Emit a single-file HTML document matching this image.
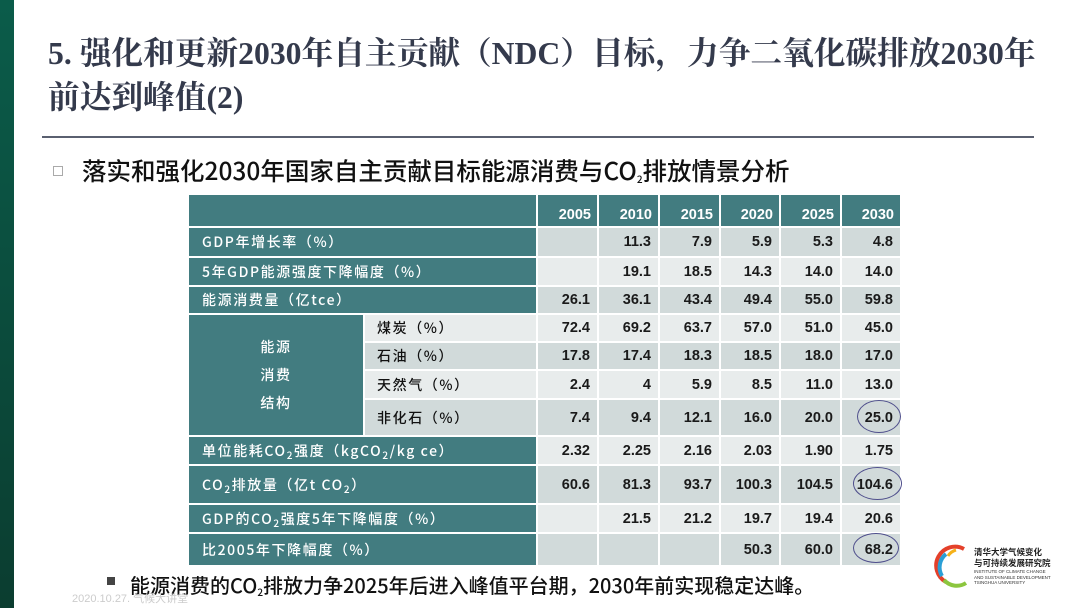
<!DOCTYPE html>
<html><head><meta charset="utf-8">
<style>
*{margin:0;padding:0;box-sizing:border-box}
body{width:1080px;height:608px;background:#fff;position:relative;overflow:hidden;font-family:"Liberation Sans","Noto Sans CJK SC",sans-serif}
.bar{position:absolute;left:0;top:0;width:14px;height:608px;background:linear-gradient(#0b5c4a,#0b3d30)}
.t{position:absolute;left:48px;font-family:"Liberation Serif","Noto Serif CJK SC",serif;font-weight:bold;font-size:31.7px;color:#343a4c;white-space:nowrap}
.hr{position:absolute;left:42px;top:136px;width:992px;height:2px;background:#5a6070}
.sub{position:absolute;left:82px;top:153px;font-size:24.5px;color:#111;white-space:nowrap;font-family:"Noto Sans CJK SC","Liberation Sans",sans-serif;font-weight:500}
.sq{position:absolute;left:53px;top:166px;width:10px;height:10px;border:1.5px solid #aaa}
table{position:absolute;left:187px;top:193px;border-collapse:separate;border-spacing:2px;table-layout:fixed}
td{padding:0;font-size:14.5px;vertical-align:middle;white-space:nowrap}
td.h{background:#427c80;color:#fff;font-weight:bold;text-align:right;padding-right:6px;vertical-align:bottom;padding-bottom:3px}
td.l{background:#427c80;color:#fff;padding-left:13px;letter-spacing:1.6px;font-family:"Noto Sans CJK SC","Liberation Sans",sans-serif;font-size:14px;font-weight:500}
td.s{background:#427c80;color:#fff;padding-left:0;letter-spacing:1.6px;text-align:center;line-height:28px;font-family:"Noto Sans CJK SC","Liberation Sans",sans-serif;font-size:14px;font-weight:500}
td.ss{padding-left:12px;letter-spacing:1.6px;color:#111;font-family:"Noto Sans CJK SC","Liberation Sans",sans-serif;font-size:14px;font-weight:500}
td.v{text-align:right;padding-right:7px;color:#1a1a1a;font-weight:bold}
tr.d td.v,tr.d td.ss{background:#d1dada}
tr.w td.v,tr.w td.ss{background:#e8ecec}
sub{font-size:10px;vertical-align:-3px;line-height:0}
.c{position:absolute;border:1.6px solid #4f4f8c;border-radius:50%}
.b{position:absolute;left:130px;top:570px;font-size:20px;color:#111;white-space:nowrap;font-family:"Noto Sans CJK SC","Liberation Sans",sans-serif;font-weight:500}
.bs{position:absolute;left:107px;top:577px;width:8px;height:8px;background:#444}
.date{position:absolute;left:72px;top:590px;font-size:11px;color:#ccc}
</style></head><body>
<div class="bar"></div>
<div class="t" style="top:29px">5. 强化和更新2030年自主贡献（NDC）目标，力争二氧化碳排放2030年</div>
<div class="t" style="top:73px">前达到峰值(2)</div>
<div class="hr"></div>
<div class="sq"></div>
<div class="sub">落实和强化2030年国家自主贡献目标能源消费与CO<sub>2</sub>排放情景分析</div>
<table>
<colgroup><col style="width:174px"><col style="width:171px"><col style="width:59px"><col style="width:59px"><col style="width:59px"><col style="width:58px"><col style="width:59px"><col style="width:58px"></colgroup>
<tr><td class="h" colspan="2" style="height:31px"></td><td class="h">2005</td><td class="h">2010</td><td class="h">2015</td><td class="h">2020</td><td class="h">2025</td><td class="h">2030</td></tr>
<tr class="d"><td class="l" colspan="2" style="height:28px">GDP年增长率（%）</td><td class="v"></td><td class="v">11.3</td><td class="v">7.9</td><td class="v">5.9</td><td class="v">5.3</td><td class="v">4.8</td></tr>
<tr class="w"><td class="l" colspan="2" style="height:27px">5年GDP能源强度下降幅度（%）</td><td class="v"></td><td class="v">19.1</td><td class="v">18.5</td><td class="v">14.3</td><td class="v">14.0</td><td class="v">14.0</td></tr>
<tr class="d"><td class="l" colspan="2" style="height:26px">能源消费量（亿tce）</td><td class="v">26.1</td><td class="v">36.1</td><td class="v">43.4</td><td class="v">49.4</td><td class="v">55.0</td><td class="v">59.8</td></tr>
<tr class="w"><td class="s" rowspan="4">能源<br>消费<br>结构</td><td class="ss" style="height:26px">煤炭（%）</td><td class="v">72.4</td><td class="v">69.2</td><td class="v">63.7</td><td class="v">57.0</td><td class="v">51.0</td><td class="v">45.0</td></tr>
<tr class="d"><td class="ss" style="height:26px">石油（%）</td><td class="v">17.8</td><td class="v">17.4</td><td class="v">18.3</td><td class="v">18.5</td><td class="v">18.0</td><td class="v">17.0</td></tr>
<tr class="w"><td class="ss" style="height:27px">天然气（%）</td><td class="v">2.4</td><td class="v">4</td><td class="v">5.9</td><td class="v">8.5</td><td class="v">11.0</td><td class="v">13.0</td></tr>
<tr class="d"><td class="ss" style="height:35px">非化石（%）</td><td class="v">7.4</td><td class="v">9.4</td><td class="v">12.1</td><td class="v">16.0</td><td class="v">20.0</td><td class="v">25.0</td></tr>
<tr class="w"><td class="l" colspan="2" style="height:27px">单位能耗CO<sub>2</sub>强度（kgCO<sub>2</sub>/kg ce）</td><td class="v">2.32</td><td class="v">2.25</td><td class="v">2.16</td><td class="v">2.03</td><td class="v">1.90</td><td class="v">1.75</td></tr>
<tr class="d"><td class="l" colspan="2" style="height:37px">CO<sub>2</sub>排放量（亿t CO<sub>2</sub>）</td><td class="v">60.6</td><td class="v">81.3</td><td class="v">93.7</td><td class="v">100.3</td><td class="v">104.5</td><td class="v">104.6</td></tr>
<tr class="w"><td class="l" colspan="2" style="height:27px">GDP的CO<sub>2</sub>强度5年下降幅度（%）</td><td class="v"></td><td class="v">21.5</td><td class="v">21.2</td><td class="v">19.7</td><td class="v">19.4</td><td class="v">20.6</td></tr>
<tr class="d"><td class="l" colspan="2" style="height:31px">比2005年下降幅度（%）</td><td class="v"></td><td class="v"></td><td class="v"></td><td class="v">50.3</td><td class="v">60.0</td><td class="v">68.2</td></tr>
</table>
<div class="c" style="left:857px;top:400px;width:44px;height:33px"></div>
<div class="c" style="left:853px;top:467px;width:49px;height:33px"></div>
<div class="c" style="left:853px;top:533px;width:46px;height:30px"></div>
<svg style="position:absolute;left:934px;top:544px" width="40" height="44" viewBox="0 0 40 44">
<path d="M30 5 A17 17 0 0 0 12 38" stroke="#e4402a" stroke-width="4" fill="none"/>
<path d="M12 10 A17 17 0 0 0 8 32" stroke="#2a9fd6" stroke-width="4" fill="none"/>
<path d="M10 36 A17 17 0 0 0 32 39" stroke="#8cc63f" stroke-width="4" fill="none"/>
<path d="M22 6 A14 14 0 0 0 14 12" stroke="#f6b21a" stroke-width="3" fill="none"/>
</svg>
<div style="position:absolute;left:974px;top:547px;font-size:8.5px;line-height:11px;color:#222;font-weight:bold;font-family:'Noto Sans CJK SC',sans-serif">清华大学气候变化<br>与可持续发展研究院</div>
<div style="position:absolute;left:974px;top:569px;font-size:4.5px;line-height:5.5px;color:#333">INSTITUTE OF CLIMATE CHANGE<br>AND SUSTAINABLE DEVELOPMENT<br>TSINGHUA UNIVERSITY</div>
<div class="bs"></div>
<div class="b">能源消费的CO<sub>2</sub>排放力争2025年后进入峰值平台期，2030年前实现稳定达峰。</div>
<div class="date">2020.10.27. 气候大讲堂</div>
</body></html>
